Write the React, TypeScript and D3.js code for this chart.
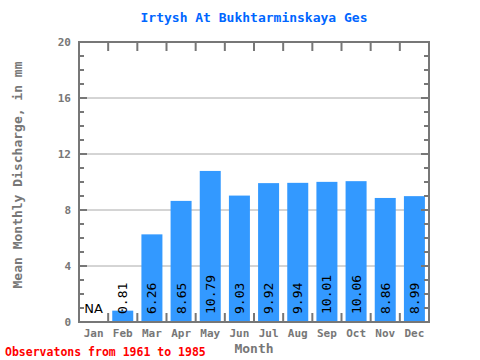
import React, { useRef, useEffect } from "react";
import * as d3 from "d3";

const months = ["Jan", "Feb", "Mar", "Apr", "May", "Jun", "Jul", "Aug", "Sep", "Oct", "Nov", "Dec"];
const discharge: (number | null)[] = [null, 0.81, 6.26, 8.65, 10.79, 9.03, 9.92, 9.94, 10.01, 10.06, 8.86, 8.99];
const yTicks = [0, 4, 8, 12, 16, 20];

const App = () => {
  const svgRef = useRef<SVGSVGElement>(null);

  useEffect(() => {
    const width = 480;
    const height = 360;
    const margin = { top: 42, right: 51, bottom: 38, left: 79 };
    const font = "'DejaVu Sans Mono', monospace";
    const gray = "#777777";

    const svg = d3.select(svgRef.current).attr("width", width).attr("height", height);
    svg.selectAll("*").remove();

    const x = d3
      .scaleBand()
      .domain(months)
      .range([margin.left, width - margin.right])
      .paddingInner(0.28)
      .paddingOuter(0.14);
    const y = d3.scaleLinear().domain([0, 20]).range([height - margin.bottom, margin.top]);

    const x0 = margin.left;
    const x1 = width - margin.right;
    const step = x.step();

    // gridlines
    svg
      .append("g")
      .selectAll("line")
      .data(yTicks.filter((t) => t > 0 && t < 20))
      .join("line")
      .attr("x1", x0)
      .attr("x2", x1)
      .attr("y1", (d) => y(d))
      .attr("y2", (d) => y(d))
      .attr("stroke", "#aaaaaa")
      .attr("stroke-width", 1);

    // bars
    const rows = months.map((m, i) => ({ month: m, value: discharge[i] }));
    svg
      .append("g")
      .selectAll("rect")
      .data(rows.filter((d) => d.value !== null))
      .join("rect")
      .attr("x", (d) => x(d.month)!)
      .attr("y", (d) => y(d.value as number))
      .attr("width", x.bandwidth())
      .attr("height", (d) => y(0) - y(d.value as number))
      .attr("fill", "#3399ff");

    // value labels
    rows.forEach((d) => {
      const cx = x(d.month)! + x.bandwidth() / 2;
      if (d.value === null) {
        svg
          .append("text")
          .attr("x", cx)
          .attr("y", y(0) - 9)
          .attr("text-anchor", "middle")
          .style("font-family", "'DejaVu Sans', sans-serif")
          .style("font-size", "13px")
          .attr("fill", "#000")
          .text("NA");
      } else {
        svg
          .append("text")
          .attr("transform", `translate(${cx},${y(0) - 8}) rotate(-90)`)
          .attr("dominant-baseline", "central")
          .style("font-family", font)
          .style("font-size", "13px")
          .attr("fill", "#000")
          .text(d.value.toFixed(2));
      }
    });

    // ticks
    const tg = svg.append("g").attr("stroke", gray).attr("stroke-width", 2);
    d3.range(0, 21).forEach((v) => {
      const len = v % 4 === 0 ? 8 : 5;
      tg.append("line").attr("x1", x0).attr("x2", x0 + len).attr("y1", y(v)).attr("y2", y(v));
      tg.append("line").attr("x1", x1).attr("x2", x1 - len).attr("y1", y(v)).attr("y2", y(v));
    });
    d3.range(1, 12).forEach((i) => {
      const xx = x0 + i * step;
      tg.append("line").attr("x1", xx).attr("x2", xx).attr("y1", y(20)).attr("y2", y(20) + 9);
      tg.append("line").attr("x1", xx).attr("x2", xx).attr("y1", y(0)).attr("y2", y(0) - 9);
    });

    // frame
    svg
      .append("rect")
      .attr("x", x0)
      .attr("y", y(20))
      .attr("width", x1 - x0)
      .attr("height", y(0) - y(20))
      .attr("fill", "none")
      .attr("stroke", gray)
      .attr("stroke-width", 2);

    // y tick labels
    svg
      .append("g")
      .selectAll("text")
      .data(yTicks)
      .join("text")
      .attr("x", x0 - 8)
      .attr("y", (d) => y(d))
      .attr("dy", "0.35em")
      .attr("text-anchor", "end")
      .style("font-family", font)
      .style("font-size", "11px")
      .style("font-weight", "bold")
      .attr("fill", gray)
      .text((d) => d);

    // month labels
    svg
      .append("g")
      .selectAll("text")
      .data(months)
      .join("text")
      .attr("x", (d) => x(d)! + x.bandwidth() / 2)
      .attr("y", y(0) + 15)
      .attr("text-anchor", "middle")
      .style("font-family", font)
      .style("font-size", "11px")
      .style("font-weight", "bold")
      .attr("fill", gray)
      .text((d) => d);

    // axis titles
    svg
      .append("text")
      .attr("x", (x0 + x1) / 2)
      .attr("y", 353)
      .attr("text-anchor", "middle")
      .style("font-family", font)
      .style("font-size", "13px")
      .style("font-weight", "bold")
      .attr("fill", gray)
      .text("Month");

    svg
      .append("text")
      .attr("transform", `translate(22,175) rotate(-90)`)
      .attr("text-anchor", "middle")
      .style("font-family", font)
      .style("font-size", "13px")
      .style("font-weight", "bold")
      .attr("fill", gray)
      .text("Mean Monthly Discharge, in mm");

    // title
    svg
      .append("text")
      .attr("x", (x0 + x1) / 2)
      .attr("y", 22)
      .attr("text-anchor", "middle")
      .style("font-family", font)
      .style("font-size", "13px")
      .style("font-weight", "bold")
      .attr("fill", "#0066ff")
      .text("Irtysh At Bukhtarminskaya Ges");

    // footer
    svg
      .append("text")
      .attr("x", 5)
      .attr("y", 356)
      .style("font-family", font)
      .style("font-size", "11.5px")
      .style("font-weight", "bold")
      .attr("fill", "#ff0000")
      .text("Observatons from 1961 to 1985");
  }, []);

  return (
    <div style={{ position: "absolute", left: 0, top: 0 }}>
      <svg ref={svgRef}></svg>
    </div>
  );
};

export default App;
